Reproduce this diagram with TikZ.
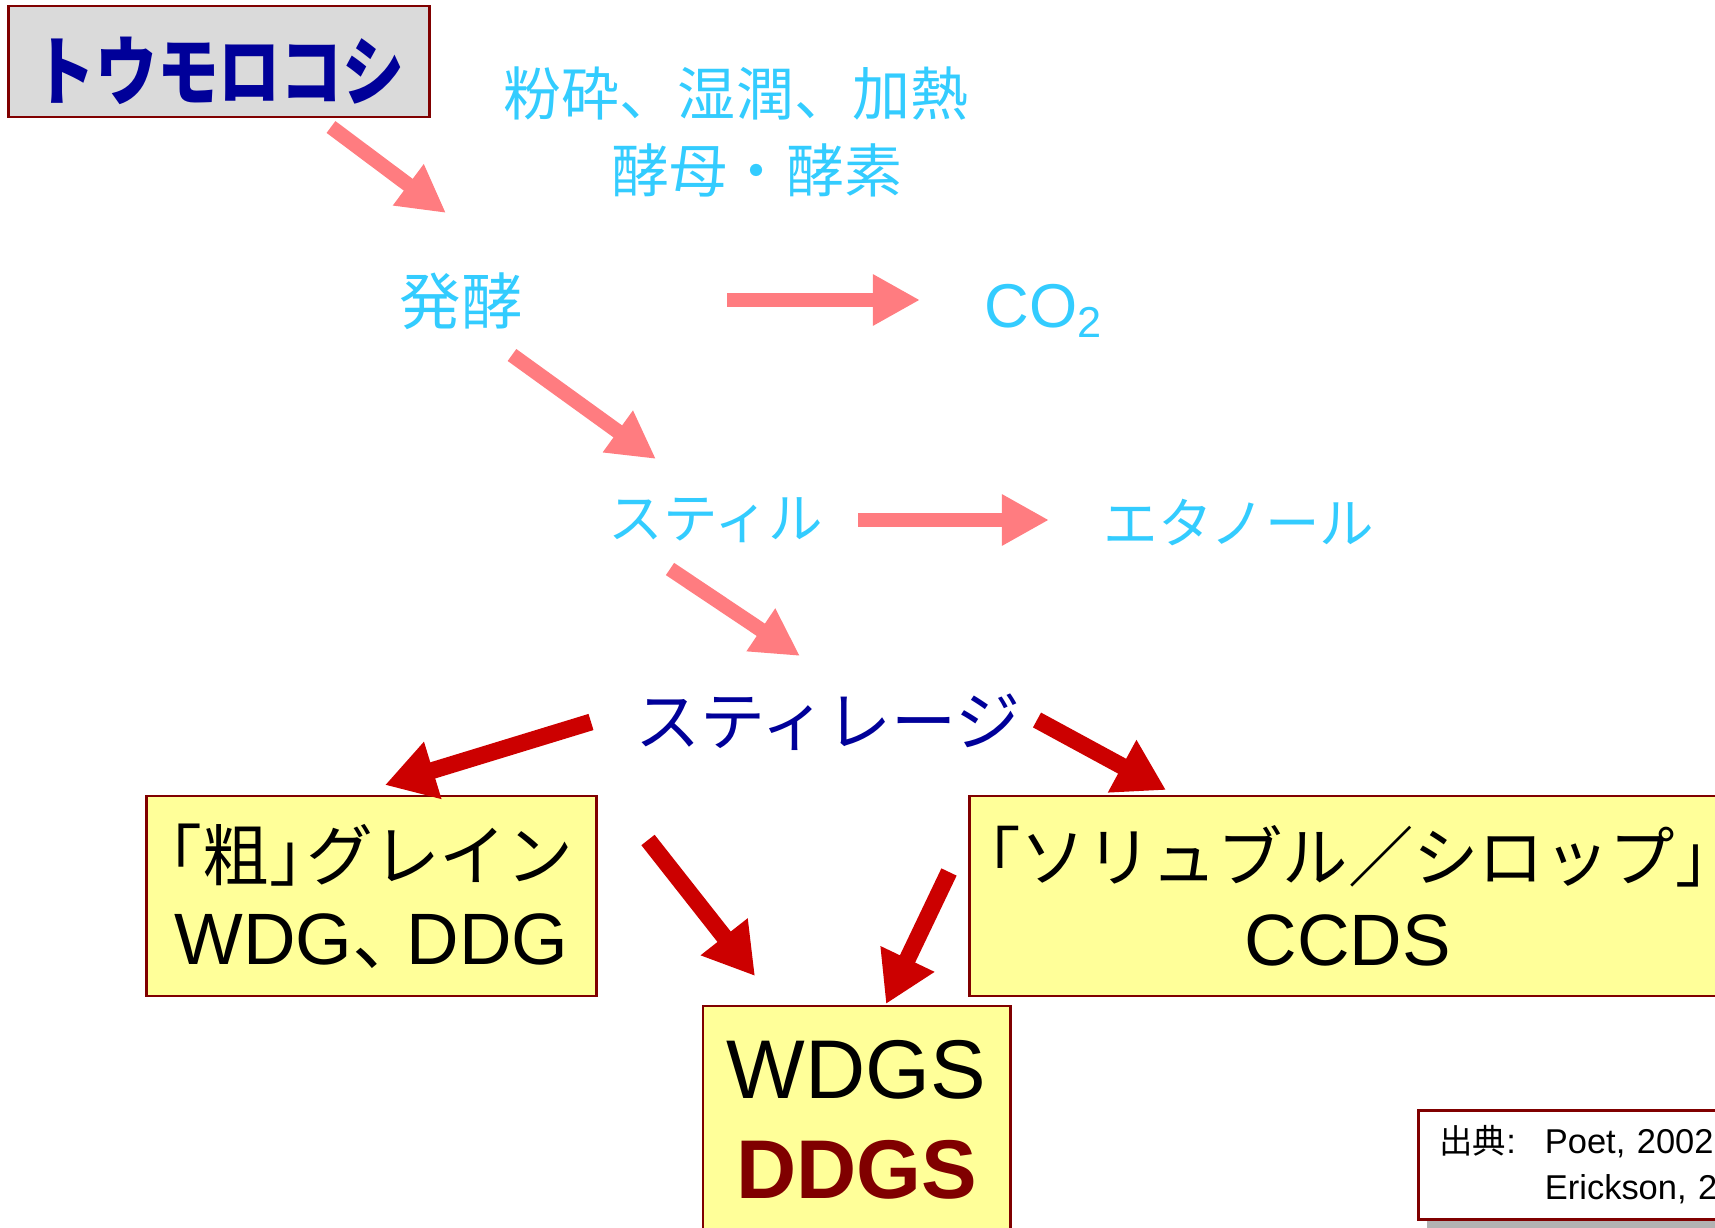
\documentclass[tikz,border=0pt]{standalone}
\usepackage{fontspec}
\usepackage{graphicx}
\setmainfont{Liberation Sans}
\newfontfamily\jp{Noto Sans CJK JP}
\usepackage{tikz}
\usetikzlibrary{calc,arrows.meta,positioning,shadows}

\definecolor{flowpink}{RGB}{255,124,128}
\definecolor{flowred}{RGB}{204,0,0}
\definecolor{procblue}{RGB}{51,204,255}
\definecolor{prodnavy}{RGB}{0,0,153}
\definecolor{boxedge}{RGB}{128,0,0}
\definecolor{boxfill}{RGB}{255,255,153}
\definecolor{cornfill}{RGB}{218,218,218}

\begin{document}
\begin{tikzpicture}[x=0.01cm,y=-0.01cm,
    pinkarrow/.style={draw=flowpink,line width=4.2pt,-{Triangle[length=13.4pt,width=13.7pt]}},
    redarrow/.style={draw=flowred,line width=4.8pt,-{Triangle[length=14.2pt,width=16pt]}},
    ybox/.style={draw=boxedge,line width=.8pt,fill=boxfill,inner sep=0pt,align=center},
    proc/.style={text=procblue,inner sep=0pt,font=\jp\fontsize{16.5}{20}\selectfont}]

  \useasboundingbox (0,0) rectangle (1715,1228);

  %% Raw material
  \node[draw=boxedge,line width=.8pt,fill=cornfill,minimum width=4.2cm,minimum height=1.11cm,
        inner sep=0pt,text height=21.9pt,text depth=0pt,text=prodnavy,
        font=\jp\bfseries\fontsize{21.5}{24}\selectfont] (corn) at (219,61.5) {\scalebox{.82}[1]{トウモロコシ}};

  %% Process steps
  \node[proc] (grind) at (736,93) {粉砕、湿潤、加熱};
  \node[proc] (yeast) at (757,170) {酵母・酵素};
  \node[proc,font=\jp\fontsize{17.5}{20}\selectfont] (ferment) at (461,301) {発酵};
  \node[proc,anchor=base west,font=\fontsize{17.6}{20}\selectfont] (co2) at (984,328) {CO\textsubscript{2}};
  \node[proc,font=\jp\fontsize{15.5}{20}\selectfont] (still) at (716,520) {スティル};
  \node[proc,font=\jp\fontsize{15.5}{20}\selectfont] (ethanol) at (1239,523) {エタノール};
  \node[text=prodnavy,inner sep=0pt,font=\jp\fontsize{18.5}{20}\selectfont] (stillage) at (828,722) {スティレージ};

  %% Co-products
  \node[ybox,minimum width=4.49cm,minimum height=2cm,font=\fontsize{20.7}{24}\selectfont] (grain) at (371.5,896)
       {\makebox[4.2cm]{\jp\fontsize{19}{24}\selectfont\hspace*{-.5em}「粗」\kern-.45em グレイン}\\WDG\makebox[.75em][l]{\jp 、}DDG};
  \node[ybox,minimum width=7.56cm,minimum height=2cm,font=\fontsize{20.7}{24}\selectfont] (syrup) at (1348,896)
       {\makebox[7.3cm]{\jp\fontsize{18.6}{24}\selectfont\hspace*{-.5em}「ソリュブル／シロップ」\kern-.5em}\\CCDS};
  \node[ybox,minimum width=3.07cm,minimum height=2.28cm,font=\fontsize{23.7}{28.5}\selectfont] (ddgs) at (856.5,1120)
       {WDGS\\\textcolor{boxedge}{\bfseries DDGS}};

  %% Source
  \node[draw=boxedge,line width=.8pt,fill=white,anchor=north west,text width=3.6cm,inner xsep=.21cm,
        minimum height=1.09cm,align=left,font=\fontsize{9.8}{13}\selectfont,
        drop shadow={shadow xshift=.09cm,shadow yshift=-.1cm,fill=black!30,opacity=1}] (source) at (1417,1109)
       {\makebox[30pt][l]{{\jp\fontsize{9.5}{13}\selectfont 出典}:}Poet, 2002\\\hspace*{30pt}Erickson, 2};

  %% Arrow ends
  \coordinate (a1) at (331,127);  \coordinate (b1) at (446,213);
  \coordinate (a2) at (727,300);  \coordinate (b2) at (920,300);
  \coordinate (a3) at (512,355);  \coordinate (b3) at (656,459);
  \coordinate (a4) at (858,520);  \coordinate (b4) at (1049,520);
  \coordinate (a5) at (670,569);  \coordinate (b5) at (800,656);
  \coordinate (c1) at (591,722);  \coordinate (d1) at (385,785);
  \coordinate (c2) at (1037,720); \coordinate (d2) at (1166,790);
  \coordinate (c3) at (648,840);  \coordinate (d3) at (755,976);
  \coordinate (c4) at (949,872);  \coordinate (d4) at (886,1004);

  %% Arrows
  \foreach \i in {1,...,5}{
    \draw[pinkarrow] (a\i) -- (b\i);
  }
  \foreach \i in {1,...,4}{
    \draw[redarrow] (c\i) -- (d\i);
  }

\end{tikzpicture}
\end{document}
